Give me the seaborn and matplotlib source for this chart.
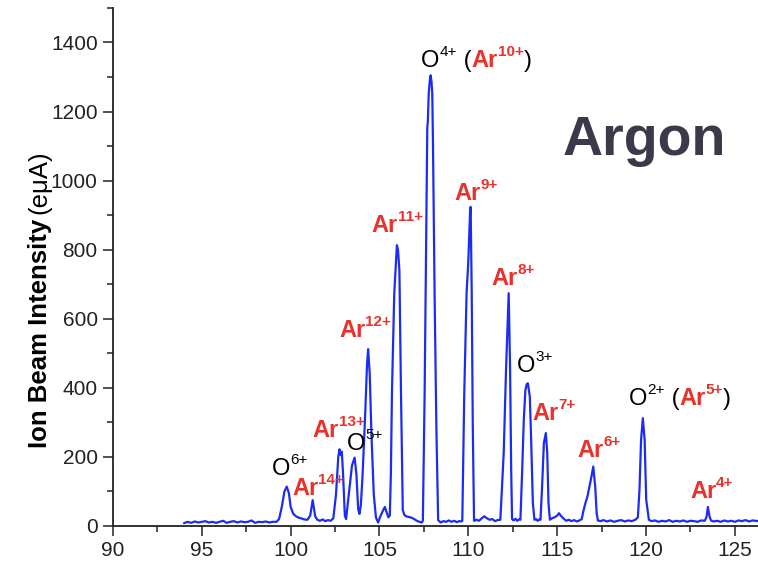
import matplotlib
matplotlib.use("Agg")
import matplotlib.pyplot as plt
import seaborn as sns
import pandas as pd
from matplotlib.transforms import offset_copy
from matplotlib.ticker import MultipleLocator

# -----------------------------
# Data
# -----------------------------
mass_to_charge = [
    94.0, 94.2, 94.4, 94.6, 94.8, 95.0, 95.2, 95.4, 95.6, 95.8, 96.0, 96.2, 96.4, 96.6, 96.8,
    97.0, 97.2, 97.4, 97.6, 97.8, 98.0, 98.2, 98.4, 98.6, 98.8, 99.0, 99.2,
    99.35, 99.5, 99.65, 99.78, 99.9, 100.0, 100.15, 100.3, 100.45, 100.6, 100.75, 100.95,
    101.1, 101.24, 101.38, 101.5, 101.65, 101.8, 101.95, 102.1, 102.25, 102.4,
    102.55, 102.68, 102.75, 102.82, 102.88, 102.95, 103.05, 103.12,
    103.25, 103.45, 103.6, 103.7, 103.8, 103.87,
    103.95, 104.05, 104.2, 104.3, 104.36, 104.45, 104.55, 104.68, 104.8, 104.92,
    105.05, 105.2, 105.3, 105.4, 105.5,
    105.58, 105.64, 105.7, 105.83, 105.93, 105.98, 106.04, 106.12, 106.21, 106.31,
    106.4, 106.5, 106.65, 106.8, 106.95, 107.1, 107.25, 107.38,
    107.44, 107.54, 107.63, 107.69, 107.72, 107.77, 107.83, 107.88, 107.93, 107.97, 108.01,
    108.1, 108.2, 108.3,
    108.45, 108.6, 108.75, 108.9, 109.05, 109.2, 109.35, 109.5, 109.6,
    109.66, 109.77, 109.9, 110.0, 110.1, 110.13, 110.19, 110.25, 110.32,
    110.45, 110.6, 110.75, 110.9, 111.05, 111.2, 111.35, 111.5, 111.65,
    111.8, 111.99, 112.12, 112.22, 112.27, 112.35, 112.41, 112.46,
    112.55, 112.65, 112.75, 112.85,
    112.93, 113.03, 113.12, 113.21, 113.28, 113.35, 113.46, 113.53, 113.63, 113.72,
    113.8, 113.9, 114.0,
    114.06, 114.15, 114.25, 114.36, 114.44, 114.51, 114.59,
    114.7, 114.85, 115.0, 115.1, 115.2, 115.35, 115.5, 115.65, 115.8, 115.95, 116.1, 116.25, 116.38,
    116.46, 116.58, 116.7, 116.89, 117.03, 117.14, 117.22, 117.29,
    117.45, 117.6, 117.8, 118.0, 118.2, 118.4, 118.6, 118.8, 119.0, 119.2, 119.4,
    119.54, 119.63, 119.72, 119.82, 119.92, 120.01, 120.16,
    120.3, 120.5, 120.7, 120.9, 121.1, 121.3, 121.5, 121.7, 121.9, 122.1, 122.3, 122.5,
    122.7, 122.9, 123.1, 123.3,
    123.4, 123.48, 123.56, 123.65,
    123.8, 124.0, 124.2, 124.4, 124.6, 124.8, 125.0, 125.2, 125.4, 125.6, 125.8, 126.0, 126.3,
]
intensity = [
    8, 12, 9, 13, 10, 12, 14, 10, 12, 9, 12, 15, 9, 12, 14,
    10, 13, 11, 12, 16, 9, 12, 11, 13, 10, 12, 12,
    20, 55, 100, 114, 95, 55, 35, 28, 24, 22, 19, 18,
    30, 75, 28, 18, 15, 19, 14, 17, 15, 22,
    90, 200, 222, 205, 215, 150, 30, 20,
    80, 175, 198, 150, 50, 35,
    60, 150, 330, 470, 512, 440, 260, 90, 25, 10,
    28, 45, 55, 40, 25,
    30, 150, 384, 673, 769, 813, 800, 740, 384, 46,
    32, 28, 26, 24, 20, 15, 12, 10,
    15, 384, 866, 1155, 1170, 1252, 1290, 1305, 1285, 1252, 1107,
    673, 287, 17,
    10, 14, 12, 16, 12, 15, 11, 14, 13,
    15, 384, 673, 769, 914, 924, 673, 287, 15,
    18, 15, 22, 28, 22, 18, 20, 14, 17,
    18, 211, 451, 596, 674, 451, 162, 20,
    16, 21, 15, 19,
    18, 162, 307, 393, 410, 413, 374, 258, 66, 18,
    20, 15, 19,
    18, 114, 240, 269, 211, 66, 18,
    22, 25, 30, 37, 30, 22, 15, 18, 14, 17, 13, 16, 20,
    40, 65, 85, 133, 172, 114, 37, 16,
    14, 17, 13, 16, 12, 15, 17, 13, 16, 14, 18,
    25, 104, 249, 312, 249, 75, 18,
    14, 16, 12, 15, 13, 17, 12, 15, 13, 16, 12, 15,
    14, 12, 16, 15,
    25, 55, 30, 16,
    13, 15, 12, 16, 13, 15, 12, 16, 14, 17, 13, 16, 14,
]

# peak labels: list of (text, style) pieces
label_parts = [
    [("O", "o"), ("4+", "osup"), (" (", "o"), ("Ar", "ar"), ("10+", "arsup"), (")", "o")],
    [("Ar", "ar"), ("11+", "arsup")],
    [("Ar", "ar"), ("9+", "arsup")],
    [("Ar", "ar"), ("8+", "arsup")],
    [("Ar", "ar"), ("12+", "arsup")],
    [("O", "o"), ("3+", "osup")],
    [("Ar", "ar"), ("7+", "arsup")],
    [("Ar", "ar"), ("13+", "arsup")],
    [("O", "o"), ("5+", "osup")],
    [("O", "o"), ("6+", "osup")],
    [("Ar", "ar"), ("14+", "arsup")],
    [("Ar", "ar"), ("6+", "arsup")],
    [("O", "o"), ("2+", "osup"), (" (", "o"), ("Ar", "ar"), ("5+", "arsup"), (")", "o")],
    [("Ar", "ar"), ("4+", "arsup")],
]
label_x = [107.33, 104.56, 109.19, 111.27, 102.72, 112.75, 113.6, 101.24, 103.19, 98.93, 100.09, 116.13, 119.05, 122.47]
label_y = [1329, 851, 943, 697, 548, 446, 307, 258, 220, 147, 90, 199, 350, 80]

RED = "#e8322b"
BLUE = "#1c2cf5"
styles = {
    "ar": dict(color=RED, weight="bold", size=17, rise=0),
    "arsup": dict(color=RED, weight="bold", size=11, rise=8),
    "o": dict(color="black", weight="normal", size=17, rise=0),
    "osup": dict(color="black", weight="normal", size=11, rise=8),
}

# -----------------------------
# Plot
# -----------------------------
sns.set_style("ticks")
plt.rcParams["font.family"] = ["Liberation Sans", "DejaVu Sans"]

fig = plt.figure(figsize=(7.58, 5.68), dpi=100)
ax = fig.add_axes([0.149, 0.074, 0.851, 0.912])

df = pd.DataFrame({"mz": mass_to_charge, "I": intensity})
sns.lineplot(data=df, x="mz", y="I", ax=ax, color=BLUE, linewidth=1.6, estimator=None, sort=False)

ax.set_xlim(90, 126.3)
ax.set_ylim(0, 1500)
ax.xaxis.set_major_locator(MultipleLocator(5))
ax.xaxis.set_minor_locator(MultipleLocator(2.5))
ax.yaxis.set_minor_locator(MultipleLocator(100))
ax.set_yticks(range(0, 1401, 200))
ax.tick_params(which="major", length=7, width=1.1, labelsize=15, colors="#222222", direction="out", pad=4)
ax.tick_params(which="minor", length=4, width=1.1, colors="#222222", direction="out")
ax.set_xlabel("")
ax.set_ylabel("")
for side in ["top", "right"]:
    ax.spines[side].set_visible(False)
for side in ["left", "bottom"]:
    ax.spines[side].set_linewidth(1.3)
    ax.spines[side].set_color("#222222")

renderer = fig.canvas.get_renderer()


def rich_text(x, y, parts):
    dx = 0.0
    for s, key in parts:
        st = styles[key]
        tr = offset_copy(ax.transData, fig=fig, x=dx, y=st["rise"], units="points")
        t = ax.text(x, y, s, color=st["color"], fontsize=st["size"], fontweight=st["weight"],
                    transform=tr, ha="left", va="baseline")
        dx += t.get_window_extent(renderer).width * 72 / fig.dpi


for parts, lx, ly in zip(label_parts, label_x, label_y):
    rich_text(lx, ly, parts)

ax.text(115.3, 1073, "Argon", fontsize=40, fontweight="bold", color="#3a3a4a",
        ha="left", va="baseline")

# y label: bold part + normal unit
t1 = fig.text(46.7 / 758, 1 - 448 / 568, "Ion Beam Intensity", fontsize=18.5, fontweight="bold",
              rotation=90, rotation_mode="anchor", ha="left", va="baseline", color="black")
h = t1.get_window_extent(renderer).height
fig.text(46.7 / 758, 1 - (448 - h - 5) / 568, "(e\u03bcA)", fontsize=18.5,
         rotation=90, rotation_mode="anchor", ha="left", va="baseline", color="black")

fig.savefig("out.png", dpi=100)
